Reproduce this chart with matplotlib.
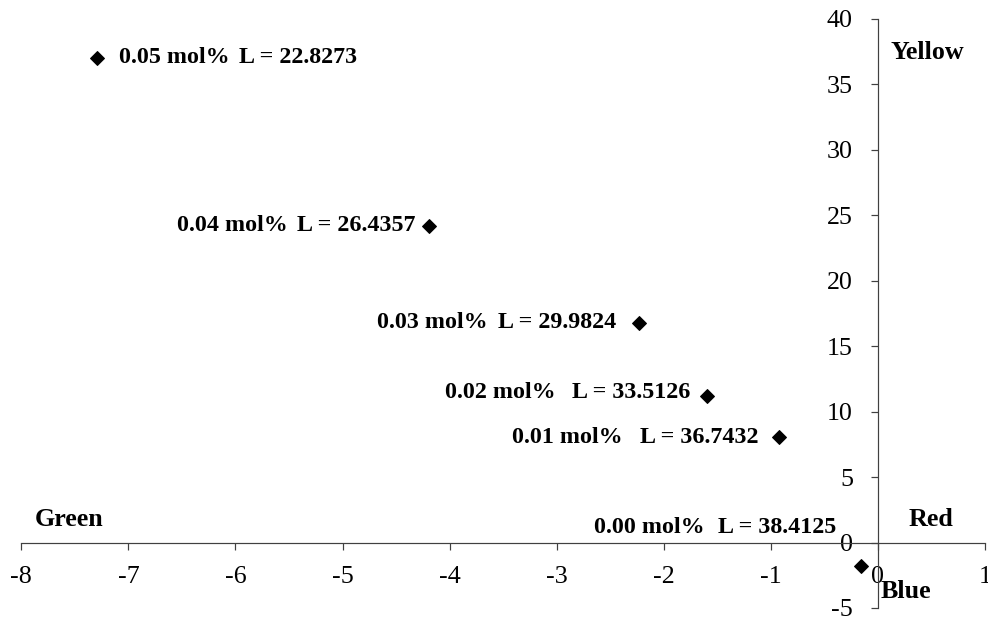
import matplotlib
matplotlib.use("Agg")
import matplotlib.pyplot as plt

# ---- data ----
concentrations = ["0.00", "0.01", "0.02", "0.03", "0.04", "0.05"]
a_star = [-0.155, -0.925, -1.60, -2.23, -4.19, -7.29]
b_star = [-1.83, 8.05, 11.2, 16.8, 24.2, 37.0]
L_values = [38.4125, 36.7432, 33.5126, 29.9824, 26.4357, 22.8273]
x_ticks = [-8, -7, -6, -5, -4, -3, -2, -1, 0, 1]
y_ticks = [-5, 0, 5, 10, 15, 20, 25, 30, 35, 40]

# ---- layout (label offsets in points: mol label dx, L label dx, dy) ----
label_offsets = [(-267, -143, 39), (-267, -139, 0), (-262, -135, 3),
                 (-262, -141, 0), (-252, -132, 0), (22, 142, 0)]

W, H = 988, 619
fig = plt.figure(figsize=(W / 72, H / 72), dpi=72)
ax = fig.add_axes([21.3 / W, (H - 608) / H, (985 - 21.3) / W, (608 - 18.7) / H])

serif = ["Liberation Serif", "DejaVu Serif"]
axcol = "#404040"

for s in ["top", "right"]:
    ax.spines[s].set_visible(False)
ax.spines["left"].set_position(("data", 0))
ax.spines["bottom"].set_position(("data", 0))
for s in ["left", "bottom"]:
    ax.spines[s].set_color(axcol)
    ax.spines[s].set_linewidth(1.2)

ax.plot(a_star, b_star, linestyle="none", marker="D", markersize=10.5,
        color="black", zorder=3)

for c, L, x, y, (dx1, dx2, dy) in zip(concentrations, L_values, a_star, b_star, label_offsets):
    ax.annotate(f"{c} mol%", (x, y), xytext=(dx1, dy), textcoords="offset points",
                ha="left", va="center", fontsize=24, fontweight="bold", family=serif)
    ax.annotate(f"L = {L:.4f}", (x, y), xytext=(dx2, dy), textcoords="offset points",
                ha="left", va="center", fontsize=24, fontweight="bold", family=serif)

ax.set_xlim(-8, 1)
ax.set_ylim(-5, 40)
ax.set_xticks(x_ticks)
ax.set_yticks(y_ticks)
ax.set_xticklabels([str(v) for v in x_ticks])
ax.set_yticklabels([str(v) for v in y_ticks])
ax.tick_params(axis="x", direction="out", length=7, width=1.2, color=axcol, pad=16,
               labelsize=26, labelfontfamily="Liberation Serif")
ax.tick_params(axis="y", direction="out", length=7, width=1.2, color=axcol, pad=18,
               labelsize=26, labelfontfamily="Liberation Serif")

ax.text(-7.87, 1.75, "Green", ha="left", va="center", fontsize=26,
        fontweight="bold", family=serif)
ax.text(0.287, 1.75, "Red", ha="left", va="center", fontsize=26,
        fontweight="bold", family=serif)
ax.text(0.118, 37.4, "Yellow", ha="left", va="center", fontsize=26,
        fontweight="bold", family=serif)
ax.text(0.025, -3.75, "Blue", ha="left", va="center", fontsize=26,
        fontweight="bold", family=serif)

fig.savefig("out.png", dpi=72)
